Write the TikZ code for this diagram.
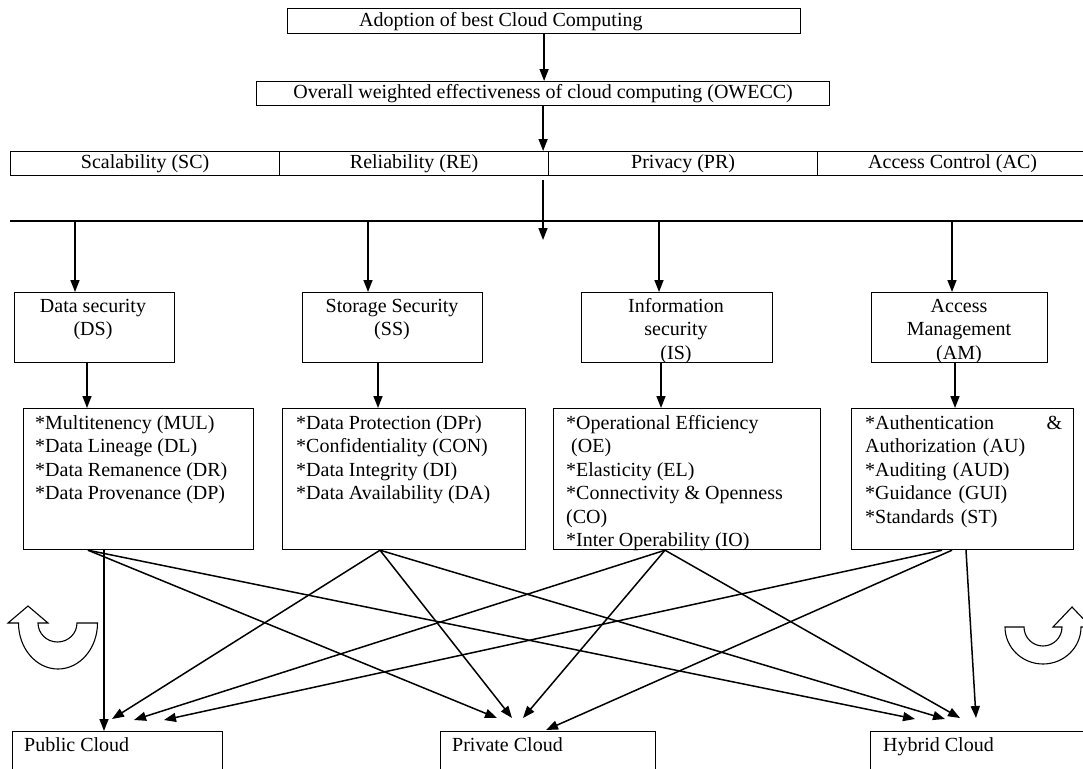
\documentclass[tikz,border=0pt]{standalone}
\usepackage{fontspec}
\setmainfont{Liberation Serif}
\usetikzlibrary{arrows.meta}
\newcommand\fs{\fontsize{20}{23.5}\selectfont}
\tikzset{
  box/.style={draw, line width=1.2pt, inner sep=0pt, anchor=north west},
  txt/.style={inner sep=0pt, font=\fs},
  arr/.style={line width=1.5pt, -{Triangle[length=12pt,width=9pt]}},
  plain/.style={line width=1.2pt},
  uturn/.style={draw, line width=1.1pt, fill=white, line join=miter},
}
\begin{document}
\begin{tikzpicture}[x=1pt, y=-1pt]
\useasboundingbox (0,0) rectangle (1083,768);
\clip (0,0) rectangle (1083,768);

% --- top chain ---
\node[box, minimum width=513, minimum height=25] (top) at (287,8) {};
\node[txt, anchor=base west] (toptext) at (359,27) {Adoption of best Cloud Computing};
\node[box, minimum width=573, minimum height=24, font=\fs] (owecc) at (256,81)
  {Overall weighted effectiveness of cloud computing (OWECC)};

% --- criteria row ---
\node[box, minimum width=269, minimum height=24, font=\fs] (sc) at (10,151) {Scalability (SC)};
\node[box, minimum width=269, minimum height=24, font=\fs] (re) at (279,151) {Reliability (RE)};
\node[box, minimum width=269, minimum height=24, font=\fs] (pr) at (548,151) {Privacy (PR)};
\node[box, minimum width=270, minimum height=24, font=\fs] (ac) at (817,151) {Access Control (AC)};

\draw[arr] (top.south) -- (top.south |- owecc.north);
\draw[arr] (owecc.south) -- (owecc.south |- re.north);

\coordinate (c1) at (543,180);
\coordinate (c2) at (543,240);
\draw[arr] (c1) -- (c2);

% --- distribution bar ---
\coordinate (barL) at (10,221);
\coordinate (barR) at (1086,221);
\draw[plain] (barL) -- (barR);

% --- security boxes ---
\node[box, minimum width=160, minimum height=70] (ds) at (14,292) {};
\node[box, minimum width=180, minimum height=70] (ss) at (302,292) {};
\node[box, minimum width=191, minimum height=70] (is) at (581,292) {};
\node[box, minimum width=176, minimum height=70] (am) at (871,292) {};

\node[txt, anchor=north, align=center] (dst) at (93,295.5) {\strut Data security\\(DS)};
\node[txt, anchor=north, align=center] (sst) at (392,295.5) {\strut Storage Security\\(SS)};
\node[txt, anchor=north, align=center] (ist) at (676,295.5) {\strut Information\\security\\(IS)};
\node[txt, anchor=north, align=center] (amt) at (959,295.5) {\strut Access\\Management\\(AM)};

\coordinate (b1) at (75,221);
\coordinate (b2) at (368,221);
\coordinate (b3) at (659,221);
\coordinate (b4) at (952,221);
\draw[arr] (b1) -- (b1 |- ds.north);
\draw[arr] (b2) -- (b2 |- ss.north);
\draw[arr] (b3) -- (b3 |- is.north);
\draw[arr] (b4) -- (b4 |- am.north);

% --- attribute lists ---
\node[box, minimum width=230, minimum height=141] (l1) at (23,408) {};
\node[box, minimum width=243, minimum height=141] (l2) at (282,408) {};
\node[box, minimum width=267, minimum height=141] (l3) at (553,408) {};
\node[box, minimum width=222, minimum height=141] (l4) at (851,408) {};

\coordinate (d1) at ([shift={(73,0)}]ds.south west);
\coordinate (d2) at ([shift={(76,0)}]ss.south west);
\coordinate (d3) at ([shift={(80,0)}]is.south west);
\coordinate (d4) at ([shift={(84,0)}]am.south west);
\draw[arr] (d1) -- (d1 |- l1.north);
\draw[arr] (d2) -- (d2 |- l2.north);
\draw[arr] (d3) -- (d3 |- l3.north);
\draw[arr] (d4) -- (d4 |- l4.north);

\node[txt, anchor=north west, align=left] (l1t) at (35,412.5)
  {\strut *Multitenency (MUL)\\{}*Data Lineage (DL)\\{}*Data Remanence (DR)\\{}*Data Provenance (DP)};
\node[txt, anchor=north west, align=left] (l2t) at (296,412.5)
  {\strut *Data Protection (DPr)\\{}*Confidentiality (CON)\\{}*Data Integrity (DI)\\{}*Data Availability (DA)};
\node[txt, anchor=north west, align=left] (l3t) at (566,412.5)
  {\strut *Operational Efficiency\\\hspace*{5pt}(OE)\\{}*Elasticity (EL)\\{}*Connectivity \& Openness\\(CO)\\{}*Inter Operability (IO)};
\node[txt, anchor=north west, align=left, text width=197pt] (l4t) at (865,412.5)
  {\strut *Authentication\hfill\&\\Authorization (AU)\\{}*Auditing (AUD)\\{}*Guidance (GUI)\\{}*Standards (ST)};

% --- deployment models ---
\node[box, minimum width=210, minimum height=60] (pub) at (12,731) {};
\node[box, minimum width=215, minimum height=60] (pri) at (440,731) {};
\node[box, minimum width=230, minimum height=60] (hyb) at (870,731) {};
\node[txt, anchor=base west] (pubt) at (24,751) {Public Cloud};
\node[txt, anchor=base west] (prit) at (452,751) {Private Cloud};
\node[txt, anchor=base west] (hybt) at (883,751) {Hybrid Cloud};

% DS
\draw[arr] ([shift={(81,0)}]l1.south west) -- ([shift={(92,0)}]pub.north west);
\draw[arr] ([shift={(65,0)}]l1.south west) -- ([shift={(57,-13)}]pri.north west);
\draw[arr] ([shift={(65,0)}]l1.south west) -- ([shift={(45,-12)}]hyb.north west);
% SS
\draw[arr] ([shift={(98,0)}]l2.south west) -- ([shift={(100,-12)}]pub.north west);
\draw[arr] ([shift={(98,0)}]l2.south west) -- ([shift={(72,-13)}]pri.north west);
\draw[arr] ([shift={(98,0)}]l2.south west) -- ([shift={(75,-12)}]hyb.north west);
% IS
\draw[arr] ([shift={(112,0)}]l3.south west) -- ([shift={(122,-11)}]pub.north west);
\draw[arr] ([shift={(112,0)}]l3.south west) -- ([shift={(83,-13)}]pri.north west);
\draw[arr] ([shift={(112,0)}]l3.south west) -- ([shift={(90,-13)}]hyb.north west);
% AM
\draw[arr] ([shift={(91,0)}]l4.south west) -- ([shift={(152,-11)}]pub.north west);
\draw[arr] ([shift={(101,0)}]l4.south west) -- ([shift={(106,-1)}]pri.north west);
\draw[arr] ([shift={(115,0)}]l4.south west) -- ([shift={(106,-13)}]hyb.north west);

% --- U-turn block arrows ---
\path[uturn] (97.5,623) arc[start angle=0, end angle=180, x radius=39.5, y radius=46]
  -- (8,623) -- (28,606) -- (48,623) -- (38,623)
  arc[start angle=180, end angle=0, x radius=19.5, y radius=19] -- cycle;
\path[uturn] (1005,627) arc[start angle=180, end angle=0, x radius=38, y radius=37]
  -- (1091,627) -- (1072,607) -- (1053,627) -- (1062,627)
  arc[start angle=0, end angle=180, x radius=19, y radius=19] -- cycle;
\end{tikzpicture}
\end{document}
